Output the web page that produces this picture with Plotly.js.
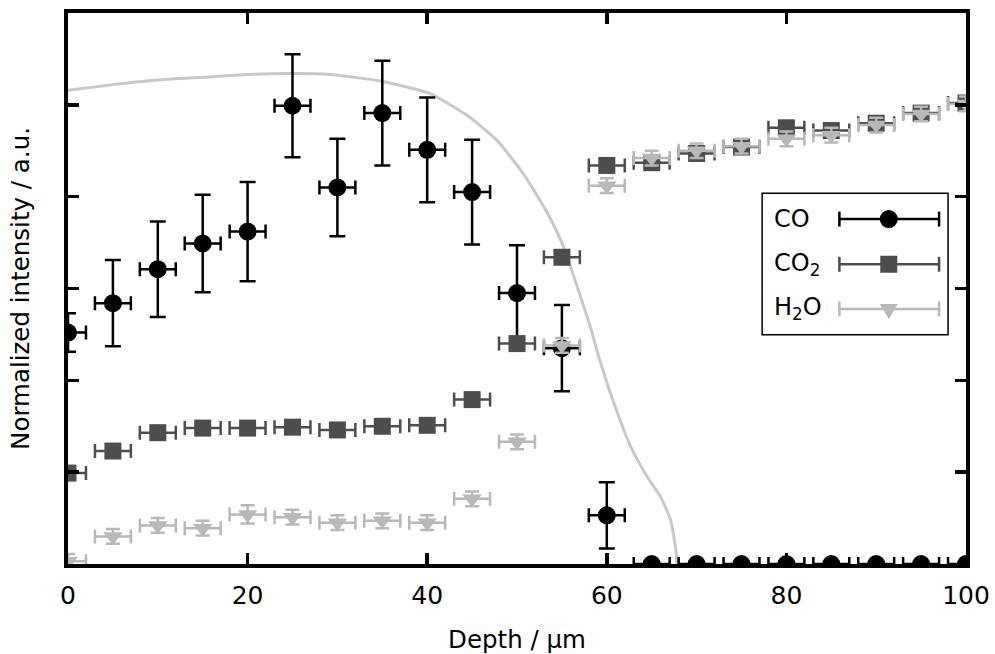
<!DOCTYPE html>
<html>
<head>
<meta charset="utf-8">
<script src="https://cdn.plot.ly/plotly-3.0.1.min.js"></script>
<style>html,body{margin:0;padding:0;background:#fff}#plot{width:995px;height:654px}</style>
</head>
<body>
<div id="plot"></div>
<script>
// ---- data ----
const depth = [0,5,10,15,20,25,30,35,40,45,50,55,60,65,70,75,80,85,90,95,100];
const coY   = [2.52,2.84,3.21,3.49,3.62,4.99,4.10,4.91,4.51,4.05,2.95,2.35,0.53,0,0,0,0,0,0,0,0];
const coErr = [0.21,0.47,0.52,0.53,0.54,0.56,0.53,0.57,0.57,0.57,0.52,0.47,0.36,0,0,0,0,0,0,0,0];
const co2Y  = [0.99,1.23,1.43,1.48,1.48,1.49,1.46,1.50,1.51,1.79,2.40,3.34,4.34,4.37,4.47,4.54,4.75,4.72,4.80,4.91,5.02];
const h2oY  = [0.03,0.30,0.42,0.39,0.54,0.51,0.45,0.47,0.45,0.71,1.33,2.38,4.12,4.42,4.50,4.55,4.63,4.67,4.78,4.90,5.01];
const h2oErr= [0.08,0.08,0.08,0.08,0.1,0.08,0.08,0.08,0.08,0.08,0.08,0.08,0.08,0.08,0.08,0.08,0.08,0.08,0.08,0.08,0.08];
const depthErr = 2;
const curveX = [0,5,10,15,20,25,29.2,34.8,40.4,44.8,47.8,50.7,53.4,55.2,58.2,59.0,60.8,62.7,64.5,66.0,67.1,67.7,67.8];
const curveY = [5.16,5.22,5.27,5.30,5.33,5.34,5.33,5.26,5.12,4.86,4.61,4.25,3.82,3.45,2.57,2.29,1.75,1.27,0.95,0.73,0.48,0.15,0.0];
const seriesNames = ['CO','CO<sub>2</sub>','H<sub>2</sub>O'];
const seriesColors = ['#000000','#4d4d4d','#b8b8b8'];
const xTicks = [0,20,40,60,80,100];
const yTicks = [1,2,3,4,5];

const FONT = 'DejaVu Sans, Liberation Sans, sans-serif';

function errX(color){ return {type:'constant', value:depthErr, color:color, thickness:2.5, width:7}; }

const traces = [
  {x:curveX, y:curveY, mode:'lines', line:{color:'#c8c8c8', width:3, shape:'spline', smoothing:0.5}, hoverinfo:'skip'},
  {x:depth, y:coY, mode:'markers', marker:{symbol:'circle', size:18, color:seriesColors[0]},
   error_y:{type:'data', array:coErr, color:seriesColors[0], thickness:2.5, width:8},
   error_x:errX(seriesColors[0])},
  {x:depth, y:co2Y, mode:'markers', marker:{symbol:'square', size:17, color:seriesColors[1]},
   error_x:errX(seriesColors[1])},
  {x:depth, y:h2oY, mode:'markers', marker:{symbol:'triangle-down', size:17, color:seriesColors[2]},
   error_y:{type:'data', array:h2oErr, color:seriesColors[2], thickness:2.5, width:7},
   error_x:errX(seriesColors[2])}
];

// ---- custom legend (text left, symbol right) ----
const legRows = [0.626, 0.544, 0.463];
const legX = 0.914;
const shapes = [{type:'rect', xref:'paper', yref:'paper', x0:0.773, x1:0.980, y0:0.416, y1:0.673,
  line:{color:'#000', width:1.5}, fillcolor:'rgba(255,255,255,0)', layer:'above'}];
const annotations = [];
legRows.forEach((yy,i)=>{
  const c = seriesColors[i];
  shapes.push({type:'line', xref:'paper', yref:'paper', x0:0.859, x1:0.970, y0:yy, y1:yy, line:{color:c,width:2.5}, layer:'above'});
  shapes.push({type:'line', xref:'paper', yref:'paper', x0:0.859, x1:0.859, y0:yy-0.0136, y1:yy+0.0136, line:{color:c,width:2.5}, layer:'above'});
  shapes.push({type:'line', xref:'paper', yref:'paper', x0:0.970, x1:0.970, y0:yy-0.0136, y1:yy+0.0136, line:{color:c,width:2.5}, layer:'above'});
  annotations.push({xref:'paper', yref:'paper', x:0.784, y:yy, xanchor:'left', yanchor:'middle', text:seriesNames[i],
    showarrow:false, font:{family:FONT, size:24, color:'#000'}});
});
// legend symbols (pixel-sized shapes anchored in the legend box)
const pix = {xref:'paper', yref:'paper', xsizemode:'pixel', ysizemode:'pixel', xanchor:legX, layer:'above', line:{width:0}};
shapes.push(Object.assign({}, pix, {type:'circle', yanchor:legRows[0], x0:-9, x1:9, y0:-9, y1:9, fillcolor:seriesColors[0]}));
shapes.push(Object.assign({}, pix, {type:'rect', yanchor:legRows[1], x0:-8.5, x1:8.5, y0:-8.5, y1:8.5, fillcolor:seriesColors[1]}));
shapes.push(Object.assign({}, pix, {type:'path', yanchor:legRows[2], path:'M -9 5 L 9 5 L 0 -10 Z', fillcolor:seriesColors[2]}));

const layout = {
  width:995, height:654,
  margin:{l:68, r:29, t:13, b:90},
  paper_bgcolor:'#fff', plot_bgcolor:'#fff',
  showlegend:false,
  font:{family:FONT, size:24, color:'#000'},
  xaxis:{range:[0,100], tickvals:xTicks, ticks:'inside', ticklen:11, tickwidth:3.5, tickcolor:'#000',
    showline:true, linewidth:4, linecolor:'#000', mirror:'ticks', showgrid:false, zeroline:false,
    tickfont:{family:FONT, size:25, color:'#000'}, ticklabelstandoff:6,
    title:{text:'Depth / µm', font:{family:FONT, size:24.5, color:'#000'}, standoff:24}},
  yaxis:{range:[0,6], tickvals:yTicks, showticklabels:false, ticks:'inside', ticklen:11, tickwidth:3.5, tickcolor:'#000',
    showline:true, linewidth:4, linecolor:'#000', mirror:'ticks', showgrid:false, zeroline:false,
    title:{text:'Normalized intensity / a.u.', font:{family:FONT, size:24.5, color:'#000'}, standoff:28}},
  shapes:shapes, annotations:annotations
};
Plotly.newPlot('plot', traces, layout, {displayModeBar:false, staticPlot:true});
</script>
</body>
</html>
